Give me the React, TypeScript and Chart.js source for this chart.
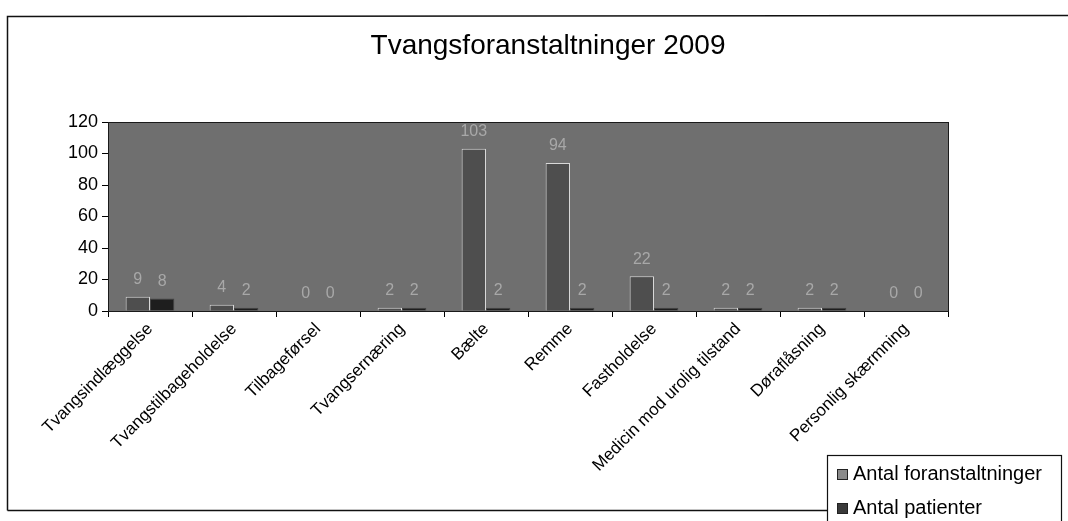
import React, { useEffect, useRef } from "react";
import { Chart, registerables } from "chart.js";

Chart.register(...registerables);

const categories = [
  "Tvangsindlæggelse",
  "Tvangstilbageholdelse",
  "Tilbageførsel",
  "Tvangsernæring",
  "Bælte",
  "Remme",
  "Fastholdelse",
  "Medicin mod urolig tilstand",
  "Døraflåsning",
  "Personlig skærmning",
];
const antalForanstaltninger = [9, 4, 0, 2, 103, 94, 22, 2, 2, 0];
const antalPatienter = [8, 2, 0, 2, 2, 2, 2, 2, 2, 0];
const seriesNames = ["Antal foranstaltninger", "Antal patienter"];
const yTicks = [0, 20, 40, 60, 80, 100, 120];
const title = "Tvangsforanstaltninger 2009";

const FONT = "'Liberation Sans', Arial, sans-serif";

const decorPlugin = {
  id: "decor",
  beforeDraw(chart: any) {
    const { ctx, chartArea: a } = chart;
    ctx.save();
    ctx.fillStyle = "#ffffff";
    ctx.fillRect(0, 0, chart.width, chart.height);
    // outer frame
    ctx.strokeStyle = "#111";
    ctx.lineWidth = 1.5;
    ctx.beginPath();
    ctx.moveTo(7.5, 510.5);
    ctx.lineTo(7.5, 16.5);
    ctx.lineTo(1068, 15.5);
    ctx.moveTo(7.5, 510.5);
    ctx.lineTo(827, 510.5);
    ctx.stroke();
    // title
    ctx.fillStyle = "#000";
    ctx.font = `28px ${FONT}`;
    ctx.textAlign = "center";
    ctx.textBaseline = "middle";
    ctx.fillText(title, 548, 46);
    // plot background
    ctx.fillStyle = "#6f6f6f";
    ctx.fillRect(a.left, a.top, a.right - a.left, a.bottom - a.top);
    ctx.restore();
  },
  afterDraw(chart: any) {
    const { ctx, chartArea: a } = chart;
    ctx.save();
    ctx.strokeStyle = "#1a1a1a";
    ctx.lineWidth = 1;
    ctx.strokeRect(a.left + 0.5, a.top + 0.5, a.right - a.left, a.bottom - a.top);
    // data labels
    ctx.font = `16px ${FONT}`;
    ctx.fillStyle = "#a8a8a8";
    ctx.textAlign = "center";
    ctx.textBaseline = "bottom";
    chart.data.datasets.forEach((ds: any, di: number) => {
      const meta = chart.getDatasetMeta(di);
      meta.data.forEach((el: any, i: number) => {
        ctx.fillText(String(ds.data[i]), el.x, el.y - 9);
      });
    });
    // legend
    const bx = 827.5, by = 455.5;
    ctx.fillStyle = "#ffffff";
    ctx.fillRect(bx, by, 234, 70);
    ctx.strokeStyle = "#111";
    ctx.lineWidth = 1.2;
    ctx.strokeRect(bx, by, 234, 70);
    ctx.textAlign = "left";
    ctx.textBaseline = "middle";
    ctx.font = `20px ${FONT}`;
    chart.data.datasets.forEach((ds: any, di: number) => {
      const cy = 474 + di * 34;
      ctx.fillStyle = di === 0 ? "#8a8a8a" : "#3a3a3a";
      ctx.fillRect(837, cy - 5, 11, 11);
      ctx.strokeStyle = "#222";
      ctx.lineWidth = 1;
      ctx.strokeRect(837.5, cy - 4.5, 10, 10);
      ctx.fillStyle = "#000";
      ctx.fillText(ds.label, 853, cy);
    });
    ctx.restore();
  },
};

export default function App() {
  const ref = useRef<HTMLCanvasElement>(null);
  useEffect(() => {
    if (!ref.current) return;
    const chart = new Chart(ref.current, {
      type: "bar",
      data: {
        labels: categories,
        datasets: [
          {
            label: seriesNames[0],
            data: antalForanstaltninger,
            backgroundColor: "#4e4e4e",
            borderColor: "#d8d8d8",
            borderWidth: 1,
            categoryPercentage: 0.58,
            barPercentage: 1,
          },
          {
            label: seriesNames[1],
            data: antalPatienter,
            backgroundColor: "#1e1e1e",
            borderColor: "#444",
            borderWidth: 1,
            categoryPercentage: 0.58,
            barPercentage: 1,
          },
        ],
      },
      options: {
        responsive: false,
        animation: false,
        maintainAspectRatio: false,
        layout: { padding: { left: 20, right: 120, top: 122, bottom: 0 } },
        plugins: {
          legend: { display: false },
          tooltip: { enabled: false },
          title: { display: false },
        },
        scales: {
          x: {
            afterFit(scale: any) {
              scale.height = 210;
            },
            grid: {
              display: true,
              drawOnChartArea: false,
              drawTicks: true,
              tickLength: 6,
              color: "#000",
              offset: true,
            },
            border: { color: "#000", width: 1 },
            ticks: {
              autoSkip: false,
              minRotation: 45,
              maxRotation: 45,
              color: "#000",
              font: { family: FONT, size: 17 },
              padding: 2,
            },
          },
          y: {
            min: 0,
            max: 120,
            afterFit(scale: any) {
              scale.width = 88;
            },
            afterBuildTicks(scale: any) {
              scale.ticks = yTicks.map((v) => ({ value: v }));
            },
            grid: {
              display: true,
              drawOnChartArea: false,
              drawTicks: true,
              tickLength: 6,
              color: "#000",
            },
            border: { color: "#000", width: 1 },
            ticks: {
              color: "#000",
              font: { family: FONT, size: 18 },
              padding: 4,
            },
          },
        },
      },
      plugins: [decorPlugin],
    });
    return () => chart.destroy();
  }, []);
  return (
    <div style={{ position: "fixed", left: 0, top: 0, width: 1068, height: 521 }}>
      <canvas ref={ref} width={1068} height={521} style={{ width: 1068, height: 521, display: "block" }} />
    </div>
  );
}
